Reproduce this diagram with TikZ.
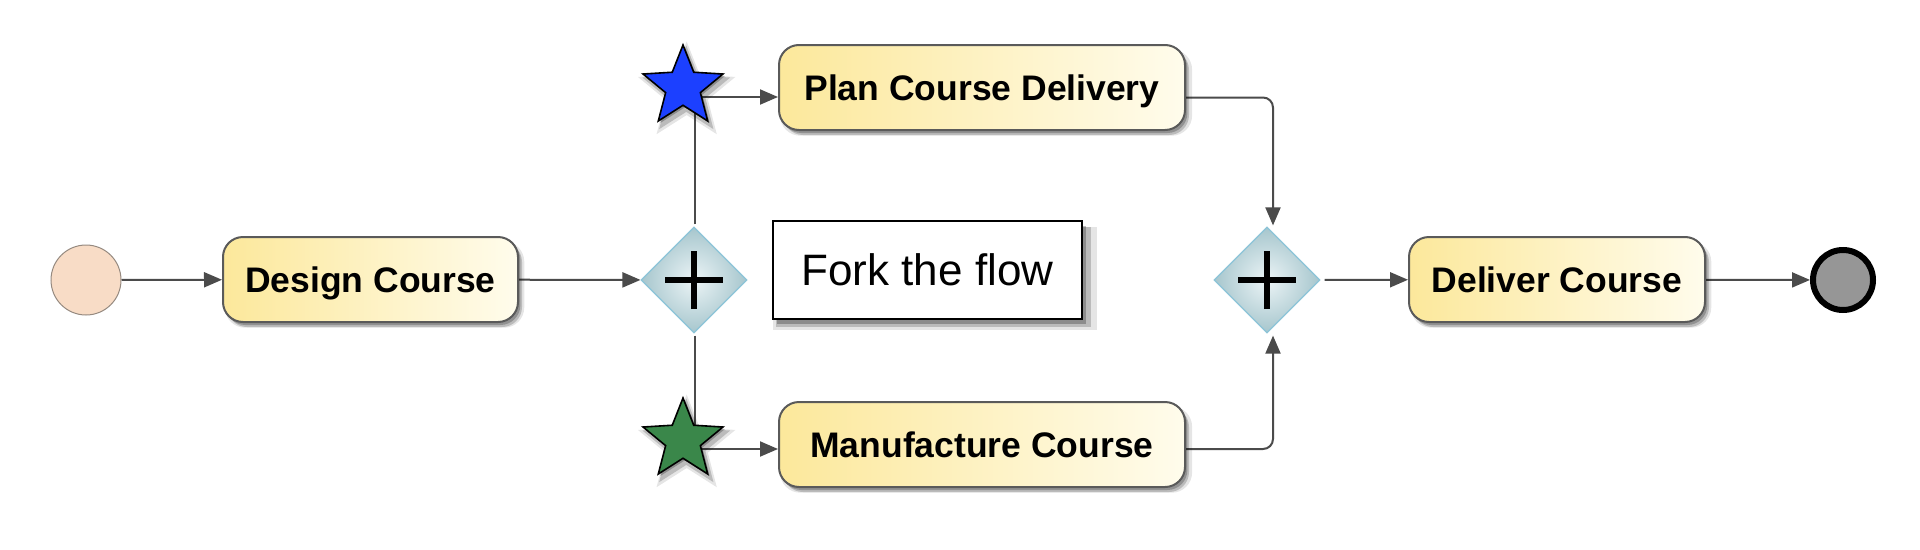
\documentclass[tikz,border=0pt]{standalone}
\usepackage{fontspec}
\setmainfont{Liberation Sans}
\usetikzlibrary{shapes.geometric,arrows.meta,shadows,backgrounds,calc}
\pgfdeclarelayer{bottom}
\pgfsetlayers{bottom,background,main}
\definecolor{boxL}{RGB}{252,232,155}
\definecolor{boxR}{RGB}{255,252,236}
\definecolor{boxline}{RGB}{90,90,90}
\definecolor{gwline}{RGB}{140,196,216}
\definecolor{gwIn}{RGB}{236,244,246}
\definecolor{gwOut}{RGB}{166,198,205}
\definecolor{conn}{RGB}{75,75,75}
\definecolor{startfill}{RGB}{248,220,198}
\definecolor{startline}{RGB}{150,138,128}
\definecolor{endfill}{RGB}{150,150,150}
\definecolor{bluestar}{RGB}{28,64,255}
\definecolor{greenstar}{RGB}{58,135,74}
\tikzset{
  softshadow/.style n args={3}{
    general shadow={fill=black, opacity=0.10, shadow xshift=#1, shadow yshift=#2, shadow scale=#3},
    general shadow={fill=black, opacity=0.18, shadow xshift=#1, shadow yshift=#2},
    general shadow={fill=black, opacity=0.22, shadow xshift=0.6*#1, shadow yshift=0.6*#2}},
  task/.style={draw=boxline, line width=2pt, rounded corners=20pt,
    left color=boxL, right color=boxR, minimum height=85pt, inner sep=0pt,
    text height=25.5pt, text depth=0pt,
    font=\fontsize{35.5}{40}\selectfont\bfseries,
    softshadow={4pt}{-5pt}{1.015}},
  gateway/.style={diamond, draw=gwline, line width=1.2pt, inner color=gwIn, outer color=gwOut,
    minimum size=106pt, inner sep=0pt,
    path picture={\draw[line width=5.5pt,black]
      ([xshift=-29pt]path picture bounding box.center) -- ([xshift=29pt]path picture bounding box.center)
      ([yshift=-29pt]path picture bounding box.center) -- ([yshift=29pt]path picture bounding box.center);}},
  startev/.style={circle, draw=startline, line width=1pt, fill=startfill, minimum size=70pt, inner sep=0pt},
  endev/.style={circle, draw=black, line width=6pt, fill=endfill, minimum size=60pt, inner sep=0pt},
  starev/.style={star, star points=5, star point ratio=2.3, draw=black, line width=1.6pt,
    minimum size=84pt, inner sep=0pt,
    general shadow={fill=black, opacity=0.10, shadow xshift=3pt, shadow yshift=-4pt, shadow scale=1.22},
    general shadow={fill=black, opacity=0.18, shadow xshift=3pt, shadow yshift=-4pt, shadow scale=1.1},
    general shadow={fill=black, opacity=0.25, shadow xshift=2pt, shadow yshift=-2pt}},
  note/.style={draw=black, line width=2.5pt, fill=white, minimum width=309pt, minimum height=98pt,
    inner sep=0pt, font=\fontsize{44}{50}\selectfont,
    general shadow={fill=black, opacity=0.10, shadow xshift=7pt, shadow yshift=-8pt, shadow scale=1.05},
    general shadow={fill=black, opacity=0.18, shadow xshift=6pt, shadow yshift=-7pt, shadow scale=1.02},
    general shadow={fill=black, opacity=0.25, shadow xshift=4pt, shadow yshift=-5pt}},
  arr/.style={draw=conn, line width=2pt, -{Triangle[length=18pt,width=15pt]}, color=conn},
  plain/.style={draw=conn, line width=2pt}
}
\begin{document}
\begin{tikzpicture}[x=1pt,y=-1pt]
\useasboundingbox (0,0) rectangle (1920,549);
\begin{pgfonlayer}{bottom}
\fill[white] (0,0) rectangle (1920,549);
\end{pgfonlayer}

\node[startev] (start) at (86,280) {};
\node[task, minimum width=295pt] (design) at (370.5,279.5) {Design Course};
\node[gateway] (g1) at (694,280) {};
\node[starev, fill=bluestar] (s1) at (683,87) {};
\node[starev, fill=greenstar] (s2) at (683,440) {};
\node[task, minimum width=406pt] (plan) at (982,87.5) {Plan Course Delivery};
\node[task, minimum width=406pt] (manu) at (982,444.5) {Manufacture Course};
\node[note] (fork) at (927.5,270) {Fork the flow};
\node[gateway] (g2) at (1267,280) {};
\node[task, minimum width=296pt] (deliver) at (1557,279.5) {Deliver Course};
\node[endev] (end) at (1843,280) {};

\begin{pgfonlayer}{background}
\draw[arr] (start) -- (design);
\draw[arr] (design) -- (g1);
\draw[plain] ([xshift=1pt,yshift=2pt]g1.north) -- ([xshift=1pt]g1.north |- s1.center);
\draw[plain] ([xshift=1pt,yshift=-2pt]g1.south) -- ([xshift=1pt]g1.south |- s2.center);
\draw[arr] ([yshift=-10pt]s1.center) -- ([yshift=-10pt]s1.center -| plan.west);
\draw[arr] ([yshift=-9pt]s2.center) -- ([yshift=-9pt]s2.center -| manu.west);
\draw[arr, rounded corners=10pt] ([yshift=-10pt]plan.east) -| ([xshift=6pt,yshift=1pt]g2.north);
\draw[arr, rounded corners=10pt] ([yshift=-4.5pt]manu.east) -| ([xshift=6pt,yshift=-2pt]g2.south);
\draw[arr, shorten <=4pt] (g2) -- (deliver);
\draw[arr] (deliver) -- (end);
\end{pgfonlayer}
\end{tikzpicture}
\end{document}
